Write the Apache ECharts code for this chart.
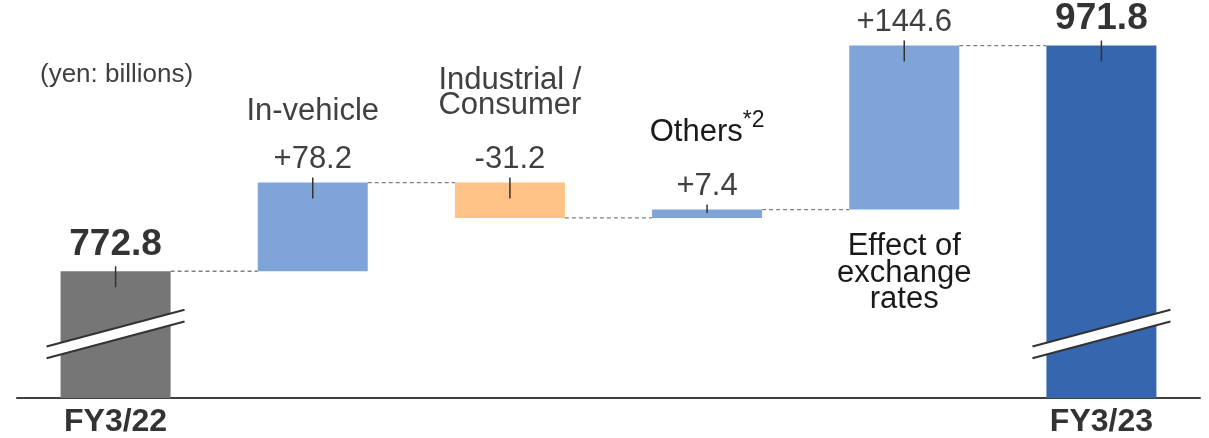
<!DOCTYPE html>
<html>
<head>
<meta charset="utf-8">
<script src="https://cdn.jsdelivr.net/npm/echarts@6/dist/echarts.min.js"></script>
<style>
  html, body { margin: 0; padding: 0; background: #fff; }
  #chart { width: 1209px; height: 438px; }
</style>
</head>
<body>
<div id="chart"></div>
<script>
// Net sales bridge, FY3/22 -> FY3/23 (yen: billions)
const categories = ['FY3/22', 'In-vehicle', 'Industrial /\nConsumer', 'Others', 'Effect of\nexchange\nrates', 'FY3/23'];
const startTotal = 772.8;
const changes = [78.2, -31.2, 7.4, 144.6];
const endTotal = 971.8;
const footnotes = { 3: '*2' };

// running totals after each step
const levels = [startTotal];
changes.forEach(c => levels.push(+(levels[levels.length - 1] + c).toFixed(1)));

// [low, high] of every bar
const spans = [[0, startTotal]];
changes.forEach((c, i) => {
  const a = levels[i], b = levels[i + 1];
  spans.push([Math.min(a, b), Math.max(a, b)]);
});
spans.push([0, endTotal]);

const valueText = [startTotal.toFixed(1)]
  .concat(changes.map(c => (c > 0 ? '+' : '') + c.toFixed(1)))
  .concat([endTotal.toFixed(1)]);

const FONT = '"Liberation Sans", Arial, Helvetica, sans-serif';
const TEXT = '#404040';
const NAME_SIZE = 31;
const NOTE_SIZE = 23;
const BAR_W = 110;
const last = categories.length - 1;

const colorOf = i => {
  if (i === 0) return '#767676';
  if (i === last) return '#3667ae';
  return changes[i - 1] >= 0 ? '#7fa5d8' : '#ffc286';
};

// category names: distance of the text block above the bar top, or below the bar
const nameAbove = { 1: 59, 2: 65, 3: 65 };
const nameBelowGap = 24;
const nameColor = { 1: '#404040', 2: '#404040', 3: '#1a1a1a', 4: '#1a1a1a' };

const measureCtx = document.createElement('canvas').getContext('2d');
const textWidth = (s, size) => { measureCtx.font = size + 'px ' + FONT; return measureCtx.measureText(s).width; };

const chart = echarts.init(document.getElementById('chart'), null, { renderer: 'canvas' });

const gridBottomY = p => p.coordSys.y + p.coordSys.height;

chart.setOption({
  animation: false,
  grid: { left: 17, right: 9, top: 0, bottom: 38 },
  xAxis: {
    type: 'category',
    data: categories,
    axisLine: { lineStyle: { color: '#404040', width: 2 } },
    axisTick: { show: false },
    axisLabel: {
      interval: 0,
      margin: 8,
      fontFamily: FONT,
      fontSize: 32,
      fontWeight: 'bold',
      color: '#333',
      formatter: (v, i) => (i === 0 || i === last ? v : '')
    }
  },
  yAxis: { type: 'value', min: 661, max: 1012, show: false },
  graphic: [{
    type: 'text', left: 40, top: 62,
    style: { text: '(yen: billions)', font: '26px ' + FONT, fill: TEXT }
  }],
  series: [
    {
      name: 'base', type: 'bar', stack: 'w', barWidth: BAR_W,
      itemStyle: { color: 'transparent' },
      data: spans.map(s => s[0])
    },
    {
      name: 'change', type: 'bar', stack: 'w', barWidth: BAR_W,
      data: spans.map((s, i) => {
        const total = i === 0 || i === last;
        return {
          value: +(s[1] - s[0]).toFixed(1),
          itemStyle: { color: colorOf(i) },
          label: {
            show: true, position: 'top',
            distance: total ? 8 : 8,
            formatter: valueText[i],
            fontFamily: FONT,
            fontSize: total ? 37 : 31,
            fontWeight: total ? 'bold' : 'normal',
            color: total ? '#333' : TEXT
          }
        };
      })
    },
    {
      // dashed connectors between neighbouring bars
      name: 'connectors', type: 'custom', z: 3,
      data: levels.map((v, i) => [i, v]),
      renderItem(params, api) {
        const i = api.value(0);
        const a = api.coord([i, api.value(1)]);
        const b = api.coord([i + 1, api.value(1)]);
        return {
          type: 'line',
          shape: { x1: a[0] + BAR_W / 2, y1: a[1], x2: b[0] - BAR_W / 2, y2: b[1] },
          style: { stroke: '#7f7f7f', lineWidth: 1.3, lineDash: [4, 3] }
        };
      }
    },
    {
      // short marker at the top edge of every bar
      name: 'ticks', type: 'custom', z: 5,
      data: spans.map((s, i) => [i, s[1], s[0]]),
      renderItem(params, api) {
        const i = api.value(0);
        const top = api.coord([i, api.value(1)]);
        const bot = Math.min(api.coord([i, api.value(2)])[1], gridBottomY(params));
        const len = Math.min(16, bot - top[1] - 5);
        return {
          type: 'line',
          shape: { x1: top[0], y1: top[1] - 5, x2: top[0], y2: top[1] + len },
          style: { stroke: '#333', lineWidth: 1.5 }
        };
      }
    },
    {
      // axis break symbols on the two total bars
      name: 'breaks', type: 'custom', z: 6,
      data: [[0, startTotal], [last, endTotal]],
      renderItem(params, api) {
        const cx = api.coord([api.value(0), api.value(1)])[0];
        const cy = gridBottomY(params) - 64;
        const hw = 69, dy = 18.4, gap = 5.9;
        const p1 = [cx - hw, cy - gap + dy], p2 = [cx + hw, cy - gap - dy];
        const q1 = [cx - hw, cy + gap + dy], q2 = [cx + hw, cy + gap - dy];
        return {
          type: 'group',
          children: [
            { type: 'polygon', shape: { points: [p1, p2, q2, q1] }, style: { fill: '#fff' } },
            { type: 'line', shape: { x1: p1[0], y1: p1[1], x2: p2[0], y2: p2[1] }, style: { stroke: '#333', lineWidth: 2 } },
            { type: 'line', shape: { x1: q1[0], y1: q1[1], x2: q2[0], y2: q2[1] }, style: { stroke: '#333', lineWidth: 2 } }
          ]
        };
      }
    },
    {
      // names of the change items
      name: 'names', type: 'custom', z: 7,
      data: changes.map((c, k) => [k + 1, spans[k + 1][1], spans[k + 1][0]]),
      renderItem(params, api) {
        const i = api.value(0);
        const top = api.coord([i, api.value(1)]);
        const bot = api.coord([i, api.value(2)]);
        const color = nameColor[i] || TEXT;
        const below = !(i in nameAbove);
        const y = below ? bot[1] + nameBelowGap : top[1] - nameAbove[i];
        const note = footnotes[i];
        if (note) {
          // single-line name followed by a raised footnote mark
          const wMain = textWidth(categories[i], NAME_SIZE);
          const wNote = textWidth(note, NOTE_SIZE);
          const x0 = top[0] - (wMain + wNote) / 2;
          return {
            type: 'group',
            children: [
              { type: 'text', x: x0, y,
                style: { text: categories[i], font: NAME_SIZE + 'px ' + FONT, fill: color,
                         align: 'left', verticalAlign: 'bottom', lineHeight: 25 } },
              { type: 'text', x: x0 + wMain, y: y - 12,
                style: { text: note, font: NOTE_SIZE + 'px ' + FONT, fill: color,
                         align: 'left', verticalAlign: 'bottom', lineHeight: NOTE_SIZE } }
            ]
          };
        }
        return {
          type: 'text', x: top[0], y,
          style: {
            text: categories[i],
            font: NAME_SIZE + 'px ' + FONT,
            fill: color,
            align: 'center',
            verticalAlign: below ? 'top' : 'bottom',
            lineHeight: below ? 26.5 : 25
          }
        };
      }
    }
  ]
});
</script>
</body>
</html>
